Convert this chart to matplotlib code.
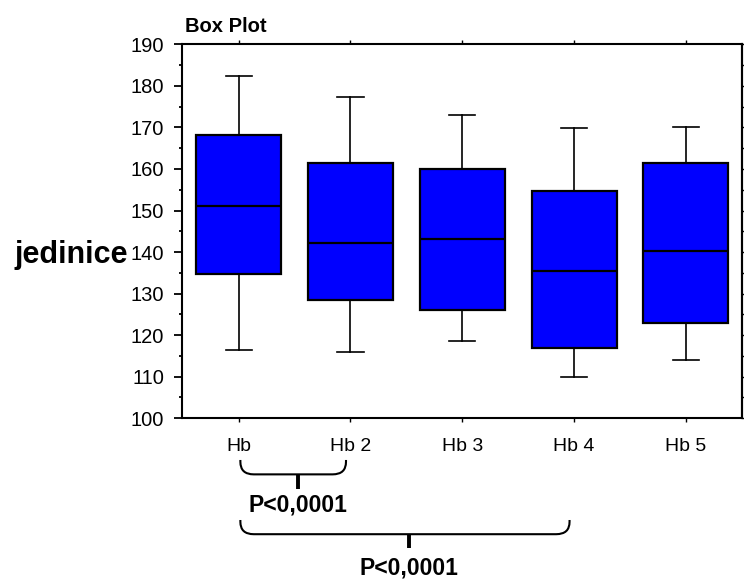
import matplotlib
matplotlib.use("Agg")
import matplotlib.pyplot as plt
from matplotlib.path import Path
from matplotlib.patches import PathPatch
import matplotlib.transforms as mtransforms
import numpy as np

plt.rcParams['font.family'] = ['Liberation Sans', 'DejaVu Sans']

# ---- data ----
categories = ["Hb", "Hb 2", "Hb 3", "Hb 4", "Hb 5"]
whisker_low = [116.4, 115.9, 118.7, 109.9, 114.0]
q1 = [134.6, 128.5, 126.1, 116.8, 122.9]
median = [151.1, 142.2, 143.1, 135.5, 140.3]
q3 = [168.2, 161.4, 160.0, 154.8, 161.4]
whisker_high = [182.4, 177.2, 173.0, 169.8, 170.2]

comparisons = [(0, 1), (0, 3)]
comparison_labels = ["P<0,0001", "P<0,0001"]

yticks = [100, 110, 120, 130, 140, 150, 160, 170, 180, 190]

# ---- figure ----
fig = plt.figure(figsize=(7.44, 5.79), dpi=100)
ax = fig.add_axes([0.2442, 0.2776, 0.7527, 0.6459])

stats = []
for i, name in enumerate(categories):
    stats.append(dict(label=name, whislo=whisker_low[i], q1=q1[i], med=median[i],
                      q3=q3[i], whishi=whisker_high[i], fliers=[]))
positions = np.arange(1, len(categories) + 1)
ax.bxp(stats, positions=positions, widths=0.76, patch_artist=True, showfliers=False,
       boxprops=dict(facecolor='#0000FF', edgecolor='black', linewidth=1.6),
       medianprops=dict(color='black', linewidth=1.6),
       whiskerprops=dict(color='black', linewidth=1.2),
       capprops=dict(color='black', linewidth=1.2),
       capwidths=0.235)

ax.set_xlim(0.49, 5.5)
ax.set_ylim(100, 190)
ax.set_yticks(yticks)
ax.set_yticks(np.arange(105, 190, 10), minor=True)
ax.set_xticks(positions)
ax.set_xticklabels(categories)

for s in ax.spines.values():
    s.set_linewidth(1.5)

ax.tick_params(axis='y', which='major', direction='out', length=5.8, width=1.3,
               labelsize=14.5, pad=7)
ax.tick_params(axis='y', which='minor', direction='out', length=2.5, width=1.3)
ax.tick_params(axis='x', which='major', direction='out', length=2.6, width=1.0,
               labelsize=14, pad=11.5, top=True)

sec = ax.secondary_yaxis('right')
sec.set_yticks(np.arange(100, 191, 5))
sec.tick_params(direction='out', length=2.5, width=1.0, labelright=False)
sec.spines['right'].set_linewidth(1.5)

ax.set_ylabel('jedinice', rotation=0, fontsize=22, fontweight='bold',
              ha='right', va='baseline')
ax.yaxis.set_label_coords(-0.0959, 0.4144)

ax.text(0.006, 1.0337, 'Box Plot', transform=ax.transAxes, fontsize=14.5,
        fontweight='bold', ha='left', va='baseline')

# ---- significance brackets below the axis ----
trans = mtransforms.blended_transform_factory(ax.transData, ax.transAxes)
bracket_levels = [(-0.1115, -0.150, -0.190, -0.2497),
                  (-0.272, -0.310, -0.348, -0.419)]
for (a, b), lab, (ytop, yh, ystem, ylab) in zip(comparisons, comparison_labels, bracket_levels):
    x0 = positions[a] + 0.015
    x1 = positions[b] - 0.04
    r = 0.12
    ymid = ytop - 0.005
    verts = [(x0, ytop), (x0, ymid), (x0, yh), (x0 + r, yh),
             (x1 - r, yh), (x1, yh), (x1, ymid), (x1, ytop)]
    codes = [Path.MOVETO, Path.LINETO, Path.CURVE3, Path.CURVE3,
             Path.LINETO, Path.CURVE3, Path.CURVE3, Path.LINETO]
    patch = PathPatch(Path(verts, codes), transform=trans, facecolor='none',
                      edgecolor='black', linewidth=1.5, clip_on=False)
    ax.add_patch(patch)
    xm = (x0 + x1) / 2 + 0.04
    ax.plot([xm, xm], [yh, ystem], transform=trans, color='black', linewidth=2.8,
            solid_capstyle='butt', clip_on=False)
    ax.text(xm, ylab, lab, transform=trans, fontsize=16.5, fontweight='bold',
            ha='center', va='baseline')

fig.savefig('out.png', dpi=100)
